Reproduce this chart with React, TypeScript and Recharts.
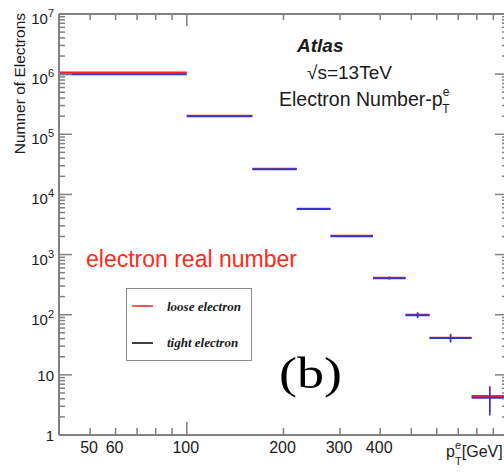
import React from "react";
import {
  ComposedChart,
  Scatter,
  XAxis,
  YAxis,
  ErrorBar,
  ReferenceLine,
  Legend,
} from "recharts";

// bin edges in GeV
const binLow = [40, 100, 160, 220, 280, 380, 480, 570, 770];
const binHigh = [100, 160, 220, 280, 380, 480, 570, 770, 1000];

// counts
const looseCounts = [1.07e6, 2.04e5, 2.68e4, 5.8e3, 2.06e3, 410, 100, 41.5, 4.45];
const tightCounts = [1.0e6, 2.0e5, 2.62e4, 5.7e3, 2.02e3, 405, 98, 41, 4.15];
const looseErr = [1030, 450, 164, 76, 45, 20, 10, 6.4, 2.1];
const tightErr = [1000, 447, 162, 75, 45, 20, 10, 6.4, 2.05];

const xTicks = [50, 60, 70, 80, 90, 100, 200, 300, 400, 500, 600, 700, 800, 900];
const xLabels = [50, 60, 100, 200, 300, 400];
const yDecades = [1, 10, 100, 1e3, 1e4, 1e5, 1e6, 1e7];
const yMinor = [1, 2, 3, 4, 5, 6, 7, 8, 9];
const yTicks = yDecades.flatMap((d, i) =>
  i < yDecades.length - 1 ? yMinor.map((m) => m * d) : [d]
);

const W = 520;
const H = 476;
const plotTop = 14;
const plotRight = 508;
const frame = "#808080";
const textCol = "#1a1a1a";
const sans = '"Liberation Sans", Arial, Helvetica, sans-serif';
const serif = '"Liberation Serif", "Times New Roman", serif';

const makeRows = (counts: number[], errs: number[]) =>
  binLow.map((lo, i) => {
    const hi = binHigh[i];
    const x = Math.sqrt(lo * hi);
    return { x, y: counts[i], xErr: [x - lo, hi - x], yErr: errs[i] };
  });

const looseData = makeRows(looseCounts, looseErr);
const tightData = makeRows(tightCounts, tightErr);

const isDecade = (v: number) => {
  const e = Math.round(Math.log10(v));
  return Math.abs(v - Math.pow(10, e)) < 1e-6 * v;
};

const YTick = (props: any) => {
  const { x, y, payload } = props;
  const v = payload.value;
  const major = isDecade(v);
  const len = major ? 13 : 6;
  const e = Math.round(Math.log10(v));
  let label: React.ReactNode = null;
  if (major) {
    if (e <= 1) {
      label = (
        <text x={x - 5} y={y + 6} textAnchor="end" fontSize={15} fontFamily={sans} fill={textCol}>
          {v}
        </text>
      );
    } else {
      label = (
        <text x={x - 5} y={y + 10} textAnchor="end" fontSize={15} fontFamily={sans} fill={textCol}>
          10
          <tspan fontSize={11} dy={-7}>{e}</tspan>
        </text>
      );
    }
  }
  return (
    <g>
      <line x1={x} x2={x + len} y1={y} y2={y} stroke={frame} strokeWidth={1.5} />
      <line x1={plotRight} x2={plotRight - len} y1={y} y2={y} stroke={frame} strokeWidth={1.5} />
      {label}
    </g>
  );
};

const XTick = (props: any) => {
  const { x, y, payload } = props;
  const v = payload.value;
  const len = isDecade(v) ? 13 : 7;
  return (
    <g>
      <line x1={x} x2={x} y1={y} y2={y - len} stroke={frame} strokeWidth={1.5} />
      <line x1={x} x2={x} y1={plotTop} y2={plotTop + len - 1} stroke={frame} strokeWidth={1.5} />
      {xLabels.includes(v) && (
        <text x={x - 1} y={y + 18} textAnchor="middle" fontSize={16} fontFamily={sans} fill={textCol}>
          {v}
        </text>
      )}
    </g>
  );
};

const LegendBox = () => (
  <svg width={127} height={74} style={{ display: "block" }}>
    <rect x={0.5} y={0.5} width={125} height={72} fill="#fff" stroke="#8a8a8a" strokeWidth={1} />
    <line x1={6} x2={27} y1={18} y2={18} stroke="#ff2020" strokeWidth={1.5} />
    <line x1={6} x2={27} y1={55} y2={55} stroke="#000" strokeWidth={1.5} />
    <text x={41} y={23} fontSize={13} fontFamily={serif} fontStyle="italic" fontWeight="bold" fill={textCol}>
      loose electron
    </text>
    <text x={41} y={59} fontSize={13} fontFamily={serif} fontStyle="italic" fontWeight="bold" fill={textCol}>
      tight electron
    </text>
  </svg>
);

export default function App() {
  return (
    <div
      style={{
        position: "absolute",
        left: 0,
        top: 0,
        width: 504,
        height: 476,
        overflow: "hidden",
        background: "#fff",
      }}
    >
      <ComposedChart
        width={W}
        height={H}
        margin={{ top: plotTop, right: W - plotRight, bottom: 0, left: 0 }}
      >
        <XAxis
          dataKey="x"
          type="number"
          scale="log"
          domain={[40, 1000]}
          allowDataOverflow
          ticks={xTicks}
          interval={0}
          height={41}
          tickSize={0}
          tickMargin={0}
          tick={<XTick />}
          axisLine={{ stroke: frame, strokeWidth: 2 }}
        />
        <YAxis
          dataKey="y"
          type="number"
          scale="log"
          domain={[1, 1e7]}
          allowDataOverflow
          ticks={yTicks}
          interval={0}
          width={59}
          tickSize={0}
          tickMargin={0}
          tick={<YTick />}
          axisLine={{ stroke: frame, strokeWidth: 2 }}
        />
        <ReferenceLine y={1e7} stroke={frame} strokeWidth={2} />
        <ReferenceLine x={1000} stroke={frame} strokeWidth={2} />
        <Scatter data={looseData} fill="#ff2020" shape={() => <g />} isAnimationActive={false}>
          <ErrorBar dataKey="xErr" direction="x" width={0} stroke="#ff2020" strokeWidth={2} />
          <ErrorBar dataKey="yErr" direction="y" width={0} stroke="#ff2020" strokeWidth={1.5} />
        </Scatter>
        <Scatter data={tightData} fill="#3434cc" shape={() => <g />} isAnimationActive={false}>
          <ErrorBar dataKey="xErr" direction="x" width={0} stroke="#3434cc" strokeWidth={2} />
          <ErrorBar dataKey="yErr" direction="y" width={0} stroke="#3434cc" strokeWidth={1.5} />
        </Scatter>
        <Legend
          layout="horizontal"
          verticalAlign="middle"
          align="center"
          content={<LegendBox />}
          wrapperStyle={{ left: 126, top: 288, width: 127, height: 74 }}
        />
      </ComposedChart>
      <svg
        width={504}
        height={476}
        style={{ position: "absolute", left: 0, top: 0, pointerEvents: "none" }}
      >
        <text
          transform="translate(25,13) rotate(-90)"
          textAnchor="end"
          fontSize={15.5}
          fontFamily={sans}
          fill={textCol}
        >
          Numner of Electrons
        </text>
        <text x={297} y={52} fontSize={19} fontFamily={sans} fontWeight="bold" fontStyle="italic" fill={textCol}>
          Atlas
        </text>
        <text x={307} y={79} fontSize={19} fontFamily={sans} fill={textCol}>
          √s=13TeV
        </text>
        <text x={279} y={106} fontSize={19.5} fontFamily={sans} fill={textCol}>
          Electron Number-p
          <tspan fontSize={12} dy={-10}>e</tspan>
          <tspan fontSize={12} dx={-7} dy={17}>T</tspan>
        </text>
        <text x={86} y={267} fontSize={23} fontFamily={sans} fill="#ff2a1a">
          electron real number
        </text>
        <text
          x={279}
          y={388}
          fontSize={45}
          fontFamily={serif}
          fill="#000"
          textLength={63}
          lengthAdjust="spacingAndGlyphs"
        >
          (b)
        </text>
        <text x={446} y={457} fontSize={16} fontFamily={sans} fill={textCol}>
          p
          <tspan fontSize={11} dy={-8}>e</tspan>
          <tspan fontSize={11} dx={-6} dy={16}>T</tspan>
          <tspan dy={-8}>[GeV]</tspan>
        </text>
      </svg>
    </div>
  );
}
